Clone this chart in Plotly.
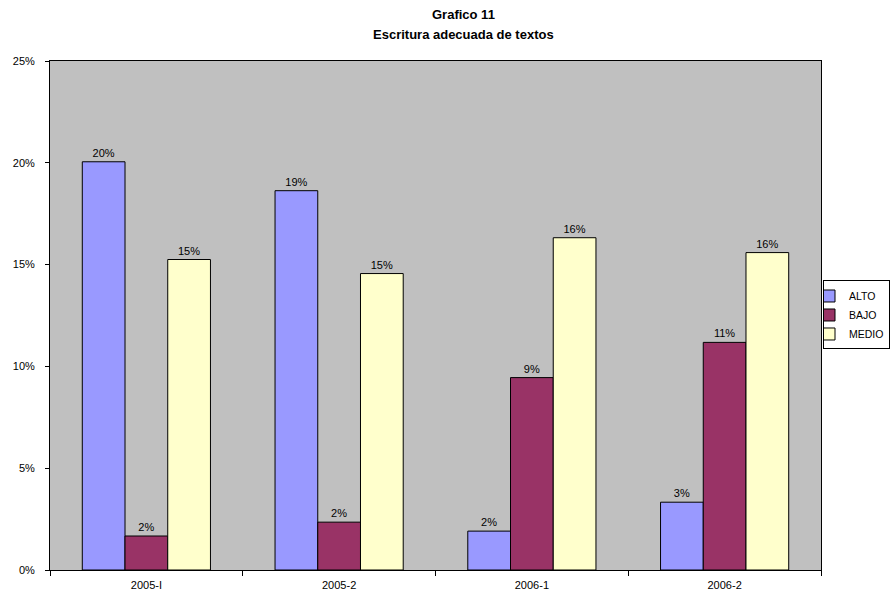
import plotly.graph_objects as go

categories = ["2005-I", "2005-2", "2006-1", "2006-2"]
alto = [0.2005, 0.1863, 0.0191, 0.0333]
bajo = [0.0167, 0.0235, 0.0945, 0.1118]
medio = [0.1525, 0.1456, 0.1632, 0.1559]
series = [("ALTO", alto, "#9999FF"), ("BAJO", bajo, "#993366"), ("MEDIO", medio, "#FFFFCC")]
y_ticks = [0, 0.05, 0.10, 0.15, 0.20, 0.25]

font = "Liberation Sans, Arial, sans-serif"
fig = go.Figure()
for name, vals, color in series:
    fig.add_trace(go.Bar(
        x=categories, y=vals, name=name,
        marker=dict(color=color, line=dict(color="black", width=1)),
        texttemplate="%{y:.0%}", textposition="outside",
        textfont=dict(family=font, size=11, color="black"),
        cliponaxis=False, constraintext="none",
    ))

fig.update_layout(
    width=892, height=600,
    paper_bgcolor="white", plot_bgcolor="#C0C0C0",
    margin=dict(l=50, r=71, t=61, b=30, autoexpand=False),
    barmode="group", bargap=0.335, bargroupgap=0,
    font=dict(family=font, size=11, color="black"),
    annotations=[
        dict(text="<b>Grafico 11</b>", x=0.5357, y=1.0904, xref="paper", yref="paper",
             xanchor="center", yanchor="middle", showarrow=False,
             font=dict(size=13, family=font)),
        dict(text="<b>Escritura adecuada de textos</b>", x=0.5357, y=1.0511,
             xref="paper", yref="paper", xanchor="center", yanchor="middle",
             showarrow=False, font=dict(size=13, family=font)),
    ],
    legend=dict(x=1.0026, y=0.501, xanchor="left", yanchor="middle",
                bgcolor="white", bordercolor="black", borderwidth=1,
                font=dict(size=10.5, family=font), itemwidth=30,
                indentation=-15, tracegroupgap=0),
    showlegend=True,
)
fig.update_xaxes(type="category", automargin=False,
                 showline=True, linecolor="black", linewidth=1, mirror=True,
                 ticks="outside", tickson="boundaries", ticklen=5, tickcolor="black",
                 ticklabelstandoff=5,
                 showgrid=False, tickfont=dict(size=11))
fig.update_yaxes(range=[0, 0.25], tickvals=y_ticks, tickformat=".0%", automargin=False,
                 showline=True, linecolor="black", linewidth=1, mirror=True,
                 ticks="outside", ticklen=4, tickcolor="black",
                 ticklabelstandoff=8,
                 showgrid=False, zeroline=False, tickfont=dict(size=11))
fig.write_html("out.html", config={"displayModeBar": False},
               post_script="document.body.style.margin='0';document.body.style.overflow='hidden';")
